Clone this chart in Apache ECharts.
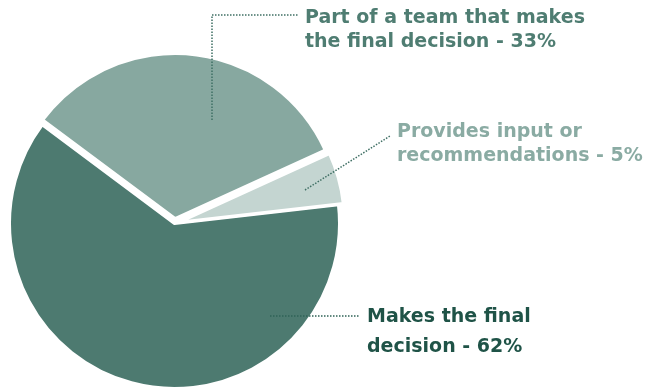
<!DOCTYPE html>
<html>
<head>
<meta charset="utf-8">
<script src="https://cdn.jsdelivr.net/npm/echarts@6/dist/echarts.min.js"></script>
<style>
  html, body { margin: 0; padding: 0; background: #ffffff; }
  #chart { width: 658px; height: 390px; }
</style>
</head>
<body>
<div id="chart"></div>
<script>
// Decision-making role breakdown
const categories = ['Makes the final\ndecision', 'Part of a team that makes\nthe final decision', 'Provides input or\nrecommendations'];
const shares = [62, 33, 5];
const sliceColors = ['#4d7a70', '#87a8a0', '#c4d5d1'];
const textColors = ['#1f5347', '#4f7d72', '#8aaba3'];
const lineColors = ['#2f6357', '#3f6f64', '#3f6f64'];
const pulledOut = [false, true, true];

// Annotation placement: text block top-left, line spacing and dotted leader path
const annotations = [
  { x: 367, y: 302.5, lh: 29.5, line: [[270, 316], [360, 316]] },
  { x: 305, y: 6,     lh: 24.3, line: [[212, 120], [212, 15], [298, 15]] },
  { x: 397, y: 120.5, lh: 24,   line: [[305, 190], [390, 136]] }
];

const chart = echarts.init(document.getElementById('chart'), null, { renderer: 'canvas' });

const graphics = [];
shares.forEach((v, i) => {
  const a = annotations[i];
  graphics.push({
    type: 'polyline',
    silent: true,
    z: 10,
    shape: { points: a.line },
    style: { stroke: lineColors[i], lineWidth: 1.5, lineDash: [1.5, 1.5], fill: null }
  });
  graphics.push({
    type: 'text',
    silent: true,
    z: 10,
    x: a.x,
    y: a.y,
    style: {
      text: categories[i] + ' - ' + v + '%',
      fill: textColors[i],
      font: 'bold 19px "DejaVu Sans"',
      lineHeight: a.lh,
      align: 'left',
      verticalAlign: 'top'
    }
  });
});

chart.setOption({
  animation: false,
  graphic: { elements: graphics },
  series: [{
    type: 'pie',
    z: 1,
    center: [174.5, 223.5],
    radius: 165,
    startAngle: 6.5,
    clockwise: true,
    avoidLabelOverlap: false,
    selectedMode: 'multiple',
    selectedOffset: 5,
    emphasis: { disabled: true },
    label: { show: false },
    labelLine: { show: false },
    itemStyle: { borderColor: '#ffffff', borderWidth: 3 },
    data: shares.map((v, i) => ({
      name: categories[i],
      value: v,
      selected: pulledOut[i],
      itemStyle: { color: sliceColors[i] }
    }))
  }]
});
</script>
</body>
</html>
